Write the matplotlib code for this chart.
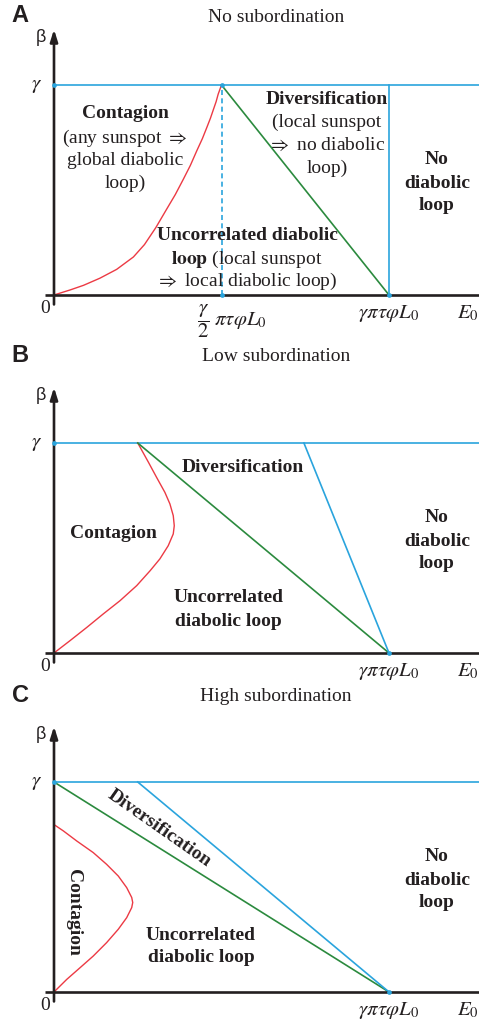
"""Three-panel regime diagram: contagion / diversification / no diabolic loop."""

import matplotlib
matplotlib.use("Agg")
import matplotlib.pyplot as plt

# ── data (x in units of gamma*pi*tau*phi*L0, y in units of gamma) ────────────
PANEL_LETTERS = ["A", "B", "C"]
PANEL_TITLES = ["No subordination", "Low subordination", "High subordination"]

# red boundary (contagion)
RED_A_X = [0.0, 0.048, 0.088, 0.137, 0.187, 0.237, 0.270, 0.304, 0.336,
           0.362, 0.386, 0.407, 0.426, 0.443, 0.456, 0.467, 0.476, 0.484, 0.490, 0.5]
RED_A_Y = [0.0, 0.024, 0.046, 0.080, 0.122, 0.181, 0.240, 0.321, 0.408,
           0.478, 0.551, 0.617, 0.686, 0.745, 0.797, 0.842, 0.884, 0.921, 0.956, 1.0]

RED_B_X = [0.0, 0.048, 0.098, 0.147, 0.197, 0.247, 0.287, 0.316, 0.341, 0.356,
           0.359, 0.356, 0.346, 0.331, 0.306, 0.282, 0.25]
RED_B_Y = [0.0, 0.059, 0.122, 0.186, 0.249, 0.321, 0.392, 0.448, 0.511, 0.567,
           0.606, 0.654, 0.710, 0.765, 0.837, 0.908, 1.0]

RED_C_X = [0.0, 0.038, 0.078, 0.117, 0.157, 0.192, 0.217, 0.232, 0.235, 0.232,
           0.217, 0.192, 0.157, 0.117, 0.068, 0.028, 0.003]
RED_C_Y = [0.0, 0.060, 0.116, 0.171, 0.235, 0.299, 0.354, 0.402, 0.426, 0.450,
           0.497, 0.552, 0.608, 0.664, 0.719, 0.767, 0.794]

# green boundary (diversification / uncorrelated)
GREEN_X = [[0.5, 1.0], [0.25, 1.0], [0.0, 1.0]]
GREEN_Y = [[1.0, 0.0], [1.0, 0.0], [1.0, 0.0]]

# blue boundary (no diabolic loop)
BLUE_X = [[1.0, 1.0], [0.746, 1.0], [0.25, 1.0]]
BLUE_Y = [[1.0, 0.0], [1.0, 0.0], [1.0, 0.0]]

# marked points
DOTS_X = [[0.0, 0.5, 0.5, 1.0], [0.0, 1.0], [0.0, 1.0]]
DOTS_Y = [[1.0, 1.0, 0.0, 0.0], [1.0, 0.0], [1.0, 0.0]]

GAMMA = 1.0
X_END = 1.3

# ── style ─────────────────────────────────────────────────────────────────────
BLUE = "#2aa4dd"
GREEN = "#2b8a3e"
RED = "#ec3a44"
INK = "#231f20"
SERIF = ["Liberation Serif", "STIXGeneral", "DejaVu Serif"]
FS = 14

plt.rcParams["font.family"] = SERIF
plt.rcParams["mathtext.fontset"] = "stix"

W, H = 479, 1020
PX_X0, PX_UNIT_X = 54, 335      # pixel of x=0, pixels per x unit
PX_UNIT_Y = 210                 # pixels per y unit
PANEL_H = 340
BASE_PX = [296, 314, 313]       # x-axis position inside each panel (from top)


def _bold(ax, x, y, s, **kw):
    ax.text(x, y, s, fontsize=FS, fontweight="bold", ha="center", va="center",
            color=INK, **kw)


def _reg(ax, x, y, s, **kw):
    ax.text(x, y, s, fontsize=FS, ha="center", va="center", color=INK, **kw)


def draw_frame(ax, i, base):
    ax.set_xlim(-PX_X0 / PX_UNIT_X, (W - PX_X0) / PX_UNIT_X)
    ax.set_ylim(-(PANEL_H - base) / PX_UNIT_Y, base / PX_UNIT_Y)
    ax.set_axis_off()

    # axes
    ax.plot([-0.027, X_END], [0, 0], color=INK, lw=1.9, solid_capstyle="butt",
            zorder=3, clip_on=False)
    ax.annotate("", xy=(0, 1.265), xytext=(0, -0.045),
                arrowprops=dict(arrowstyle="-|>,head_width=0.22,head_length=0.7",
                                lw=1.9, color=INK, shrinkA=0, shrinkB=0),
                zorder=3)

    # gamma line
    ax.plot([0, X_END], [GAMMA, GAMMA], color=BLUE, lw=1.2, zorder=2)

    # tick labels
    ax.text(-0.036, GAMMA, r"$\gamma$", fontsize=FS + 1, ha="right", va="center", color=INK)
    ax.text(-0.027, -0.06, "0", fontsize=FS, ha="center", va="center", color=INK)
    ax.text(-0.039, 1.232, "β", fontsize=FS - 1, ha="center", va="center",
            color=INK, family=["Liberation Sans", "DejaVu Sans"])
    ax.text(1.0, -0.085, r"$\gamma\pi\tau\varphi L_0$", fontsize=FS + 1,
            ha="center", va="center", color=INK)
    ax.text(1.236, -0.085, r"$E_0$", fontsize=FS + 1, ha="center", va="center", color=INK)

    # title + letter
    ax.text(0.663, (base - 17) / PX_UNIT_Y, PANEL_TITLES[i], fontsize=FS,
            ha="center", va="center", color=INK)
    ax.text(-0.101, (base - 16) / PX_UNIT_Y, PANEL_LETTERS[i], fontsize=17,
            fontweight="bold", ha="center", va="center", color=INK,
            family=["Liberation Sans", "DejaVu Sans"])


def main():
    fig = plt.figure(figsize=(W / 100, H / 100), dpi=100)
    reds = [(RED_A_X, RED_A_Y), (RED_B_X, RED_B_Y), (RED_C_X, RED_C_Y)]

    for i in range(3):
        ax = fig.add_axes([0, 1 - (i + 1) * PANEL_H / H, 1, PANEL_H / H])
        draw_frame(ax, i, BASE_PX[i])

        ax.plot(*reds[i], color=RED, lw=1.0, zorder=2)
        ax.plot(GREEN_X[i], GREEN_Y[i], color=GREEN, lw=1.2, zorder=2)
        ax.plot(BLUE_X[i], BLUE_Y[i], color=BLUE, lw=1.2, zorder=2)
        ax.plot(DOTS_X[i], DOTS_Y[i], "o", color=BLUE, ms=3.4, mec="none", zorder=4)

        # region labels
        if i == 0:
            ax.plot([0.5, 0.5], [0, GAMMA], color=BLUE, lw=1.2, ls=(0, (3, 2)), zorder=2)
            ax.text(0.531, -0.118, r"$\dfrac{\gamma}{2}\;\pi\tau\varphi L_0$",
                    fontsize=FS + 1, ha="center", va="center", color=INK)
            _bold(ax, 0.212, 0.867, "Contagion")
            _reg(ax, 0.212, 0.752, r"(any sunspot $\Rightarrow$")
            _reg(ax, 0.212, 0.643, "global diabolic")
            _reg(ax, 0.212, 0.538, "loop)")
            _bold(ax, 0.815, 0.938, "Diversification")
            _reg(ax, 0.815, 0.829, "(local sunspot")
            _reg(ax, 0.815, 0.719, r"$\Rightarrow$ no diabolic")
            _reg(ax, 0.815, 0.610, "loop)")
            _bold(ax, 0.576, 0.290, "Uncorrelated diabolic")
            _reg(ax, 0.576, 0.176, r"$\mathbf{loop}$ (local sunspot")
            _reg(ax, 0.576, 0.067, r"$\Rightarrow$ local diabolic loop)")
        elif i == 1:
            _bold(ax, 0.564, 0.890, "Diversification")
            _bold(ax, 0.176, 0.576, "Contagion")
            _bold(ax, 0.522, 0.267, "Uncorrelated")
            _bold(ax, 0.522, 0.157, "diabolic loop")
        else:
            _bold(ax, 0.313, 0.786, "Diversification", rotation=-35,
                  rotation_mode="anchor")
            _bold(ax, 0.057, 0.386, "Contagion", rotation=-90, rotation_mode="anchor")
            _bold(ax, 0.439, 0.276, "Uncorrelated")
            _bold(ax, 0.439, 0.167, "diabolic loop")

        _bold(ax, 1.143, 0.648, "No")
        _bold(ax, 1.143, 0.538, "diabolic")
        _bold(ax, 1.143, 0.429, "loop")

    fig.savefig("out.png", dpi=100)
    plt.close(fig)


if __name__ == "__main__":
    main()
